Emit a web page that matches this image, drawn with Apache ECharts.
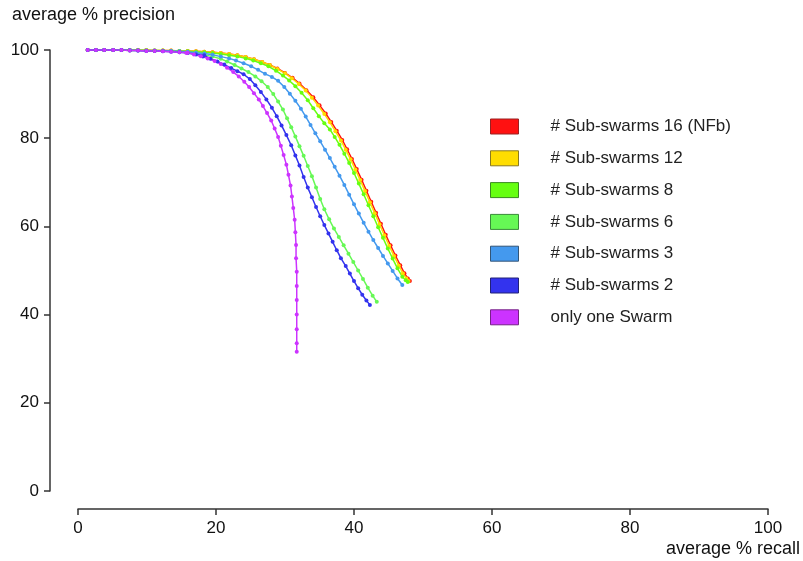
<!DOCTYPE html>
<html>
<head>
<meta charset="utf-8">
<script src="https://cdn.jsdelivr.net/npm/echarts@6/dist/echarts.min.js"></script>
<style>
  html, body { margin: 0; padding: 0; background: #fff; }
  #chart { width: 803px; height: 561px; }
</style>
</head>
<body>
<div id="chart"></div>
<script>
// series names, top of the legend first
const seriesNames = ['# Sub-swarms 16 (NFb)', '# Sub-swarms 12', '# Sub-swarms 8', '# Sub-swarms 6', '# Sub-swarms 3', '# Sub-swarms 2', 'only one Swarm']
const seriesColors = ['#ff1111', '#ffdd00', '#66ff11', '#66f855', '#4499ee', '#3333ee', '#cc33ff']
const borderColors = ['#992222', '#8a7a22', '#3a8a22', '#3a8a3a', '#335577', '#222277', '#772288']

const xTicks = [0, 20, 40, 60, 80, 100]
const yTicks = [0, 20, 40, 60, 80, 100]

// the common flat start of every curve
const headRecall = [1.4, 2.6, 3.8, 5.1, 6.3, 7.5, 8.7, 9.9, 11.1, 12.3, 13.5, 14.7, 15.9, 17.1, 18.3, 19.5, 20.7, 21.9, 23.1]

const recall16 = headRecall.concat([24.3, 25.5, 26.7, 27.8, 28.9, 30.0, 31.1, 32.1, 33.1, 34.1, 35.0, 35.9, 36.7, 37.5, 38.3, 39.0, 39.7, 40.4, 41.1, 41.8, 42.5, 43.2, 43.9, 44.6, 45.3, 46.0, 46.7, 47.3, 47.8, 48.1])
const precision16 = [100, 100, 100, 100, 100, 100, 100, 100, 99.9, 99.9, 99.9, 99.8, 99.8, 99.7, 99.6, 99.5, 99.3, 99.1, 98.8,
  98.4, 97.9, 97.3, 96.6, 95.8, 94.8, 93.7, 92.4, 90.9, 89.3, 87.5, 85.6, 83.7, 81.7, 79.6, 77.5, 75.3, 73.0, 70.6, 68.1, 65.6, 63.1, 60.6, 58.1, 55.7, 53.4, 51.2, 49.4, 48.2, 47.6]

const recall12 = headRecall.concat([24.3, 25.5, 26.7, 27.8, 28.9, 30.0, 31.0, 32.0, 33.0, 33.9, 34.8, 35.7, 36.5, 37.3, 38.1, 38.8, 39.5, 40.2, 40.9, 41.6, 42.3, 43.0, 43.7, 44.4, 45.1, 45.8, 46.5, 47.1, 47.6, 47.9])
const precision12 = [100, 100, 100, 100, 100, 100, 100, 100, 99.9, 99.9, 99.9, 99.8, 99.8, 99.7, 99.6, 99.5, 99.3, 99.1, 98.8,
  98.4, 97.9, 97.3, 96.6, 95.7, 94.7, 93.6, 92.3, 90.8, 89.2, 87.4, 85.5, 83.6, 81.6, 79.5, 77.4, 75.2, 72.9, 70.5, 68.0, 65.5, 63.0, 60.5, 58.0, 55.6, 53.3, 51.1, 49.3, 48.2, 47.6]

const recall8 = headRecall.concat([24.3, 25.4, 26.5, 27.6, 28.7, 29.7, 30.6, 31.5, 32.4, 33.3, 34.1, 34.9, 35.7, 36.5, 37.2, 37.9, 38.6, 39.3, 40.0, 40.7, 41.4, 42.1, 42.8, 43.5, 44.2, 44.9, 45.6, 46.3, 47.0, 47.5, 47.8])
const precision8 = [100, 100, 100, 100, 100, 100, 100, 99.9, 99.9, 99.9, 99.8, 99.8, 99.7, 99.6, 99.5, 99.3, 99.1, 98.8, 98.5,
  98.1, 97.6, 97.0, 96.3, 95.3, 94.2, 93.1, 91.8, 90.3, 88.6, 86.8, 85.0, 83.4, 82.0, 80.3, 78.5, 76.5, 74.4, 72.1, 69.7, 67.3, 64.8, 62.3, 59.8, 57.4, 55.0, 52.7, 50.5, 48.6, 47.8, 47.4]

const recall6 = headRecall.slice(0, 17).concat([21.6, 22.7, 23.7, 24.7, 25.7, 26.6, 27.5, 28.3, 29.0, 29.7, 30.3, 30.9, 31.5, 32.1, 32.7, 33.3, 33.9, 34.5, 35.1, 35.7, 36.4, 37.1, 37.8, 38.5, 39.2, 39.9, 40.6, 41.3, 42.0, 42.7, 43.3])
const precision6 = [100, 100, 100, 100, 100, 99.9, 99.9, 99.9, 99.8, 99.8, 99.7, 99.6, 99.4, 99.2, 98.9, 98.5, 98.0,
  97.4, 96.6, 95.8, 95.0, 94.0, 92.9, 91.6, 90.0, 88.3, 86.5, 84.5, 82.5, 80.4, 78.2, 76.0, 73.7, 71.4, 68.8, 66.2, 63.9, 61.6, 59.5, 57.6, 55.7, 53.8, 51.9, 50.0, 48.1, 46.1, 44.3, 42.9]

const recall3 = headRecall.slice(0, 18).concat([22.9, 24.0, 25.1, 26.1, 27.1, 28.1, 29.0, 29.9, 30.7, 31.5, 32.3, 33.0, 33.7, 34.4, 35.1, 35.8, 36.5, 37.2, 37.9, 38.6, 39.3, 40.0, 40.7, 41.4, 42.1, 42.8, 43.5, 44.2, 44.9, 45.6, 46.3, 47.0])
const precision3 = [100, 100, 100, 100, 100, 100, 99.9, 99.9, 99.9, 99.8, 99.8, 99.7, 99.6, 99.4, 99.2, 98.9, 98.5, 98.1,
  97.6, 97.0, 96.3, 95.5, 94.6, 93.9, 93.0, 91.6, 90.1, 88.5, 86.7, 84.9, 83.0, 81.1, 79.3, 77.4, 75.5, 73.5, 71.5, 69.4, 67.2, 65.0, 62.9, 60.8, 58.8, 56.9, 55.1, 53.3, 51.6, 49.9, 48.2, 46.7]

const recall2 = headRecall.slice(0, 15).concat([18.1, 19.2, 20.2, 21.2, 22.2, 23.1, 24.0, 24.9, 25.7, 26.5, 27.3, 28.1, 28.8, 29.5, 30.2, 30.9, 31.5, 32.1, 32.7, 33.3, 33.9, 34.5, 35.1, 35.7, 36.3, 36.9, 37.5, 38.1, 38.8, 39.4, 40.0, 40.6, 41.2, 41.8, 42.3])
const precision2 = [100, 100, 100, 100, 100, 99.9, 99.9, 99.8, 99.8, 99.7, 99.6, 99.5, 99.3, 99.0, 98.8,
  98.5, 98.0, 97.4, 96.7, 95.9, 95.2, 94.5, 93.4, 92.0, 90.5, 88.8, 86.9, 85.0, 82.9, 80.7, 78.4, 76.1, 73.8, 71.2, 68.8, 66.6, 64.4, 62.3, 60.3, 58.4, 56.5, 54.6, 52.8, 51.0, 49.3, 47.6, 46.0, 44.5, 43.2, 42.2]

const recall1 = headRecall.slice(0, 13).concat([15.7, 16.8, 17.8, 18.8, 19.8, 20.7, 21.6, 22.5, 23.3, 24.1, 24.8, 25.5, 26.2, 26.8, 27.4, 28.0, 28.5, 29.0, 29.4, 29.8, 30.2, 30.5, 30.8, 31.0, 31.2, 31.4, 31.5, 31.6, 31.6, 31.7, 31.7, 31.7, 31.7, 31.7, 31.7, 31.7])
const precision1 = [100, 100, 100, 100, 100, 99.9, 99.9, 99.8, 99.8, 99.7, 99.6, 99.5, 99.4,
  99.3, 99.0, 98.6, 98.1, 97.5, 96.8, 96.0, 95.0, 94.0, 92.8, 91.6, 90.2, 88.8, 87.3, 85.7, 84.0, 82.2, 80.3, 78.3, 76.2, 74.0, 71.7, 69.3, 66.8, 64.2, 61.5, 58.7, 55.8, 52.8, 49.7, 46.5, 43.3, 40.0, 36.7, 33.5, 31.6]

const recallSets = [recall16, recall12, recall8, recall6, recall3, recall2, recall1]
const precisionSets = [precision16, precision12, precision8, precision6, precision3, precision2, precision1]

const myChart = echarts.init(document.getElementById('chart'))

const axisColor = '#333'
const fontFamily = 'Liberation Sans, Arial, sans-serif'
const labelFont = { fontFamily: fontFamily, fontSize: 17, color: '#111' }

const series = seriesNames.map(function (name, i) {
  return {
    name: name,
    type: 'line',
    data: recallSets[i].map(function (r, k) { return [r, precisionSets[i][k]] }),
    symbol: 'circle',
    symbolSize: 4,
    showAllSymbol: true,
    lineStyle: { width: 1.5, color: seriesColors[i] },
    itemStyle: { color: seriesColors[i] },
    emphasis: { disabled: true }
  }
})

myChart.setOption({
  animation: false,
  color: seriesColors,
  grid: { left: 78, right: 35, top: 50, bottom: 70 },
  legend: {
    orient: 'vertical',
    left: 490,
    top: 118,
    icon: 'rect',
    itemWidth: 28,
    itemHeight: 15,
    itemGap: 14.8,
    padding: 0,
    textStyle: { fontFamily: fontFamily, fontSize: 17, color: '#222', padding: [0, 0, 0, 27] },
    data: seriesNames.map(function (name, i) {
      return { name: name, itemStyle: { color: seriesColors[i], borderColor: borderColors[i], borderWidth: 1 } }
    })
  },
  xAxis: {
    type: 'value',
    min: xTicks[0],
    max: xTicks[xTicks.length - 1],
    interval: 20,
    offset: 18,
    splitLine: { show: false },
    axisLine: { onZero: false, lineStyle: { color: axisColor, width: 1.5 } },
    axisTick: { length: 6, lineStyle: { color: axisColor, width: 1.5 } },
    axisLabel: Object.assign({ margin: 11 }, labelFont)
  },
  yAxis: {
    type: 'value',
    min: yTicks[0],
    max: yTicks[yTicks.length - 1],
    interval: 20,
    offset: 28,
    splitLine: { show: false },
    axisLine: { onZero: false, lineStyle: { color: axisColor, width: 1.5 } },
    axisTick: { length: 6, lineStyle: { color: axisColor, width: 1.5 } },
    axisLabel: Object.assign({ margin: 11 }, labelFont)
  },
  graphic: [
    { type: 'text', left: 12, top: 6, style: { text: 'average % precision', font: '18px Liberation Sans, Arial, sans-serif', fill: '#111' } },
    { type: 'text', right: 3, top: 540, style: { text: 'average % recall', font: '18px Liberation Sans, Arial, sans-serif', fill: '#111' } }
  ],
  series: series
})
</script>
</body>
</html>
